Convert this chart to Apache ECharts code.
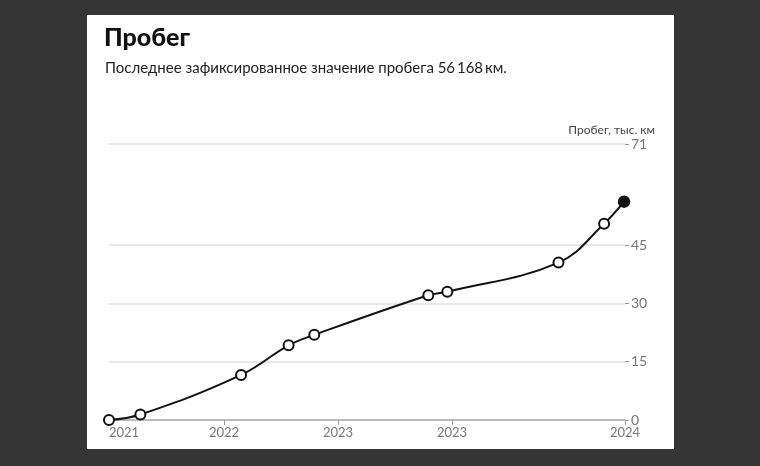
<!DOCTYPE html>
<html>
<head>
<meta charset="utf-8">
<script src="https://cdn.jsdelivr.net/npm/echarts@6/dist/echarts.min.js"></script>
<style>
html,body{margin:0;padding:0;background:#353535;}
#chart{width:760px;height:466px;}
</style>
</head>
<body>
<div id="chart"></div>
<script>
// Data (x in months since first record, y in thousand km)
const xMonths = [0, 3.3, 13.9, 18.9, 21.6, 33.6, 35.6, 47.3, 52.1, 54.2];
const mileage = [0, 1.4, 11.6, 19.2, 21.9, 32.1, 33.0, 40.5, 50.5, 56.168];
const xLabelValues = [0, 12.1, 24.1, 36.1, 54.3];
const xLabelTexts = ['2021', '2022', '2023', '2023', '2024'];
const xTickValues = [12.1, 24.1, 36.1, 54.3];
const yTickValues = [0, 15, 30, 45, 71];

const titleText = 'Пробег';
const subtitleText = 'Последнее зафиксированное значение пробега 56\u2009168\u2009км.';
const yAxisTitle = 'Пробег, тыс. км';

const points = xMonths.map((x, i) => {
  const last = i === xMonths.length - 1;
  return {
    value: [x, mileage[i]],
    symbolSize: last ? 11 : 10,
    itemStyle: last ? { color: '#111', borderColor: '#111', borderWidth: 1.5 } : undefined
  };
});

const chart = echarts.init(document.getElementById('chart'));
chart.setOption({
  backgroundColor: '#353535',
  animation: false,
  textStyle: { fontFamily: 'Lato, "Noto Sans", sans-serif' },
  graphic: [
    { type: 'rect', z: -10, shape: { x: 87, y: 15, width: 587, height: 434 }, style: { fill: '#ffffff' } },
    { type: 'text', left: 104, top: 25, style: { text: titleText, fontSize: 25, fontWeight: 900, fill: '#111', fontFamily: 'Lato, "Noto Sans", sans-serif' } },
    { type: 'text', left: 105, top: 61, style: { text: subtitleText, fontSize: 15, fill: '#222', fontFamily: 'Lato, "Noto Sans", sans-serif' } },
    { type: 'text', right: 105, top: 124, style: { text: yAxisTitle, fontSize: 12, fill: '#444', fontFamily: 'Lato, "Noto Sans", sans-serif' } }
  ],
  grid: { left: 109, right: 135, top: 144, bottom: 46, containLabel: false },
  xAxis: {
    type: 'value',
    min: 0,
    max: 54.3,
    axisLine: { show: true, onZero: false, lineStyle: { color: '#aaa', width: 1.5 } },
    axisTick: { show: true, length: 5, customValues: xTickValues, lineStyle: { color: '#999' } },
    splitLine: { show: false },
    axisLabel: {
      customValues: xLabelValues,
      margin: 6,
      fontSize: 13,
      color: '#777',
      alignMinLabel: 'left',
      formatter: function (v) {
        let best = 0;
        xLabelValues.forEach((lv, i) => { if (Math.abs(lv - v) < Math.abs(xLabelValues[best] - v)) best = i; });
        return xLabelTexts[best];
      }
    }
  },
  yAxis: {
    type: 'value',
    position: 'right',
    min: 0,
    max: 71,
    axisLine: { show: false, onZero: false },
    axisTick: { show: true, length: 4, customValues: yTickValues, lineStyle: { color: '#999' } },
    splitLine: { show: true, lineStyle: { color: '#e0e0e0', width: 1.5 } },
    axisLabel: { customValues: yTickValues, margin: 6, fontSize: 14, color: '#777' }
  },
  series: [{
    type: 'line',
    data: points,
    smooth: 0.4,
    symbol: 'circle',
    symbolSize: 10,
    showAllSymbol: true,
    lineStyle: { color: '#111', width: 2 },
    itemStyle: { color: '#fff', borderColor: '#111', borderWidth: 2 },
    z: 5
  }]
});
</script>
</body>
</html>
